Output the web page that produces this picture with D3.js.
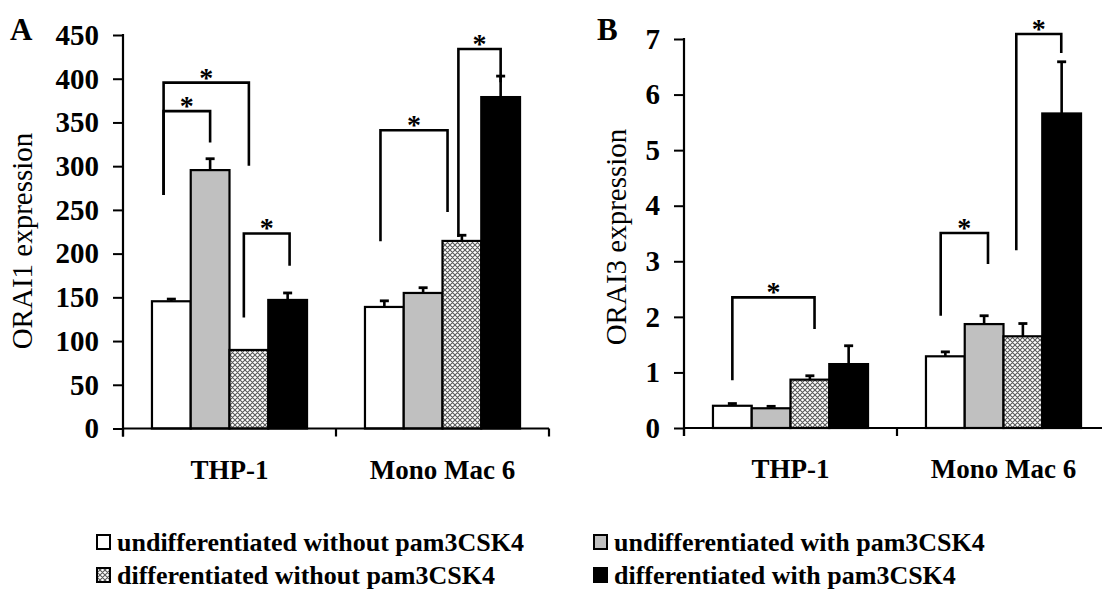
<!DOCTYPE html>
<html><head><meta charset="utf-8">
<script src="https://cdn.jsdelivr.net/npm/d3@7"></script>
<style>
html,body{margin:0;padding:0;background:#fff;overflow:hidden}
svg text{font-family:"Liberation Serif","DejaVu Serif",serif}
</style>
</head><body>
<svg id="chart" width="1102" height="590"></svg>
<script>
// ---------------- data ----------------
const categories = ["THP-1", "Mono Mac 6"];
const seriesNames = [
  "undifferentiated without pam3CSK4",
  "undifferentiated with pam3CSK4",
  "differentiated without pam3CSK4",
  "differentiated with pam3CSK4"
];
// ORAI1 (panel A)
const orai1THP1 = [145.5, 295.5, 89.8, 147];
const orai1MM6 = [139, 155, 214.5, 379];
const orai1ErrTHP1 = [2.5, 13, 0, 8];
const orai1ErrMM6 = [7, 6, 6.5, 24];
const orai1Ticks = [0, 50, 100, 150, 200, 250, 300, 350, 400, 450];
// ORAI3 (panel B)
const orai3THP1 = [0.40, 0.355, 0.87, 1.15];
const orai3MM6 = [1.29, 1.87, 1.65, 5.66];
const orai3ErrTHP1 = [0.04, 0.035, 0.07, 0.33];
const orai3ErrMM6 = [0.08, 0.15, 0.23, 0.93];
const orai3Ticks = [0, 1, 2, 3, 4, 5, 6, 7];
// significance brackets: category, from-series, to-series, anchor fractions within bars,
// top value, bottom values of left and right legs (data units)
const bracketsA = [
  {cat: "THP-1", from: 0, to: 1, fa: 0.3, ta: 0.5, top: 363, lb: 267, rb: 327},
  {cat: "THP-1", from: 0, to: 2, fa: 0.3, ta: 0.5, top: 395.5, lb: 267, rb: 300.5},
  {cat: "THP-1", from: 2, to: 3, fa: 0.37, ta: 0.55, top: 223, lb: 127, rb: 186},
  {cat: "Mono Mac 6", from: 0, to: 2, fa: 0.4, ta: 0.13, top: 341, lb: 214, rb: 247.6},
  {cat: "Mono Mac 6", from: 2, to: 3, fa: 0.41, ta: 0.5, top: 434, lb: 219, rb: 396}
];
const bracketsB = [
  {cat: "THP-1", from: 0, to: 2, fa: 0.5, ta: 0.62, top: 2.35, lb: 0.86, rb: 1.78},
  {cat: "Mono Mac 6", from: 0, to: 1, fa: 0.38, ta: 0.6, top: 3.51, lb: 2.02, rb: 2.95},
  {cat: "Mono Mac 6", from: 2, to: 3, fa: 0.33, ta: 0.49, top: 7.09, lb: 3.2, rb: 6.75}
];

// ---------------- drawing ----------------
const svg = d3.select("#chart");
svg.append("rect").attr("width", 1102).attr("height", 590).attr("fill", "#fff");

const defs = svg.append("defs");
const pat = defs.append("pattern").attr("id", "hatch")
  .attr("patternUnits", "userSpaceOnUse").attr("width", 5).attr("height", 5);
pat.append("rect").attr("width", 5).attr("height", 5).attr("fill", "#fff");
pat.append("path").attr("d", "M0,0L5,5M5,0L0,5M-1,4L1,6M4,-1L6,1M-1,1L1,-1M4,6L6,4")
  .attr("stroke", "#5a5a5a").attr("stroke-width", 1.1);

const fills = ["#ffffff", "#c0c0c0", "url(#hatch)", "#000000"];

function panel(opt) {
  const g = svg.append("g");
  const x = d3.scaleBand().domain(categories).range([opt.x0, opt.x1]).padding(0);
  const bw = x.bandwidth();
  const inner = d3.scaleBand().domain(d3.range(seriesNames.length))
    .range([bw * 0.136, bw * 0.864]).padding(0);
  const y = d3.scaleLinear().domain([0, opt.max]).range([opt.y0, opt.yTop]);

  const rows = categories.map((c, ci) => ({cat: c, vals: opt.values[ci], errs: opt.errs[ci]}));

  // bars
  rows.forEach(r => {
    r.vals.forEach((v, i) => {
      const bx = x(r.cat) + inner(i);
      g.append("rect")
        .attr("x", bx).attr("y", y(v))
        .attr("width", inner.bandwidth()).attr("height", y(0) - y(v))
        .attr("fill", fills[i]).attr("stroke", "#000").attr("stroke-width", 2.2);
      const e = r.errs[i];
      if (e > 0) {
        const cx = bx + inner.bandwidth() / 2;
        g.append("line").attr("x1", cx).attr("x2", cx).attr("y1", y(v)).attr("y2", y(v + e))
          .attr("stroke", "#000").attr("stroke-width", 2.6);
        g.append("line").attr("x1", cx - 4.5).attr("x2", cx + 4.5).attr("y1", y(v + e)).attr("y2", y(v + e))
          .attr("stroke", "#000").attr("stroke-width", 2.8);
      }
    });
  });

  // y axis
  const yAxis = d3.axisLeft(y).tickValues(opt.ticks).tickFormat(d3.format("d"))
    .tickSize(10).tickSizeOuter(0).tickPadding(14);
  const ya = g.append("g").attr("transform", `translate(${opt.x0},0)`).call(yAxis);
  ya.select(".domain").remove();
  ya.attr("font-family", null);
  ya.selectAll(".tick line").attr("stroke", "#000").attr("stroke-width", 2);
  ya.selectAll(".tick text").attr("font-weight", "bold")
    .attr("font-size", 29).attr("fill", "#000");
  g.append("line").attr("x1", opt.x0).attr("x2", opt.x0).attr("y1", y(opt.max) - 1).attr("y2", y(0) + 8)
    .attr("stroke", "#000").attr("stroke-width", 2.2);

  // x axis
  g.append("line").attr("x1", opt.x0).attr("x2", opt.x1).attr("y1", y(0)).attr("y2", y(0))
    .attr("stroke", "#000").attr("stroke-width", 2.2);
  const bounds = categories.map(c => x(c)).concat([opt.x1]);
  bounds.forEach(b => g.append("line").attr("x1", b).attr("x2", b).attr("y1", y(0)).attr("y2", y(0) + 8)
    .attr("stroke", "#000").attr("stroke-width", 2.2));
  categories.forEach(c => g.append("text").attr("x", x(c) + bw / 2).attr("y", y(0) + 50)
    .attr("text-anchor", "middle").attr("font-weight", "bold")
    .attr("font-size", 27).text(c));

  // y label
  g.append("text").attr("transform", `translate(${opt.labelX},${opt.labelY}) rotate(-90)`)
    .attr("text-anchor", "middle").attr("font-size", 29).text(opt.label);

  // panel letter
  g.append("text").attr("x", opt.letterX).attr("y", 40)
    .attr("font-weight", "bold").attr("font-size", 31).text(opt.letter);

  // brackets
  opt.brackets.forEach(b => {
    const xl = x(b.cat) + inner(b.from) + inner.bandwidth() * b.fa;
    const xr = x(b.cat) + inner(b.to) + inner.bandwidth() * b.ta;
    g.append("path")
      .attr("d", `M${xl},${y(b.lb)}V${y(b.top)}H${xr}V${y(b.rb)}`)
      .attr("fill", "none").attr("stroke", "#000").attr("stroke-width", 2.6);
    g.append("text").attr("x", (xl + xr) / 2).attr("y", y(b.top) + 4)
      .attr("text-anchor", "middle").attr("font-weight", "bold")
      .attr("font-size", 28).text("*");
  });
}

panel({
  x0: 123, x1: 549, y0: 428.5, yTop: 35, max: 450, ticks: orai1Ticks,
  values: [orai1THP1, orai1MM6], errs: [orai1ErrTHP1, orai1ErrMM6],
  brackets: bracketsA, label: "ORAI1 expression", labelX: 32, labelY: 241,
  letter: "A", letterX: 10
});
panel({
  x0: 684, x1: 1110, y0: 428, yTop: 39, max: 7, ticks: orai3Ticks,
  values: [orai3THP1, orai3MM6], errs: [orai3ErrTHP1, orai3ErrMM6],
  brackets: bracketsB, label: "ORAI3 expression", labelX: 626, labelY: 237,
  letter: "B", letterX: 597
});

// legend
const legendPos = [[97, 551], [594, 551], [97, 584], [594, 584]];
const lg = svg.append("g");
seriesNames.forEach((s, i) => {
  const [lx, ly] = legendPos[i];
  lg.append("rect").attr("x", lx).attr("y", ly - 16).attr("width", 13).attr("height", 14)
    .attr("fill", fills[i]).attr("stroke", "#000").attr("stroke-width", 2);
  lg.append("text").attr("x", lx + 20).attr("y", ly)
    .attr("font-weight", "bold").attr("font-size", 26).text(s);
});
</script>
</body></html>
